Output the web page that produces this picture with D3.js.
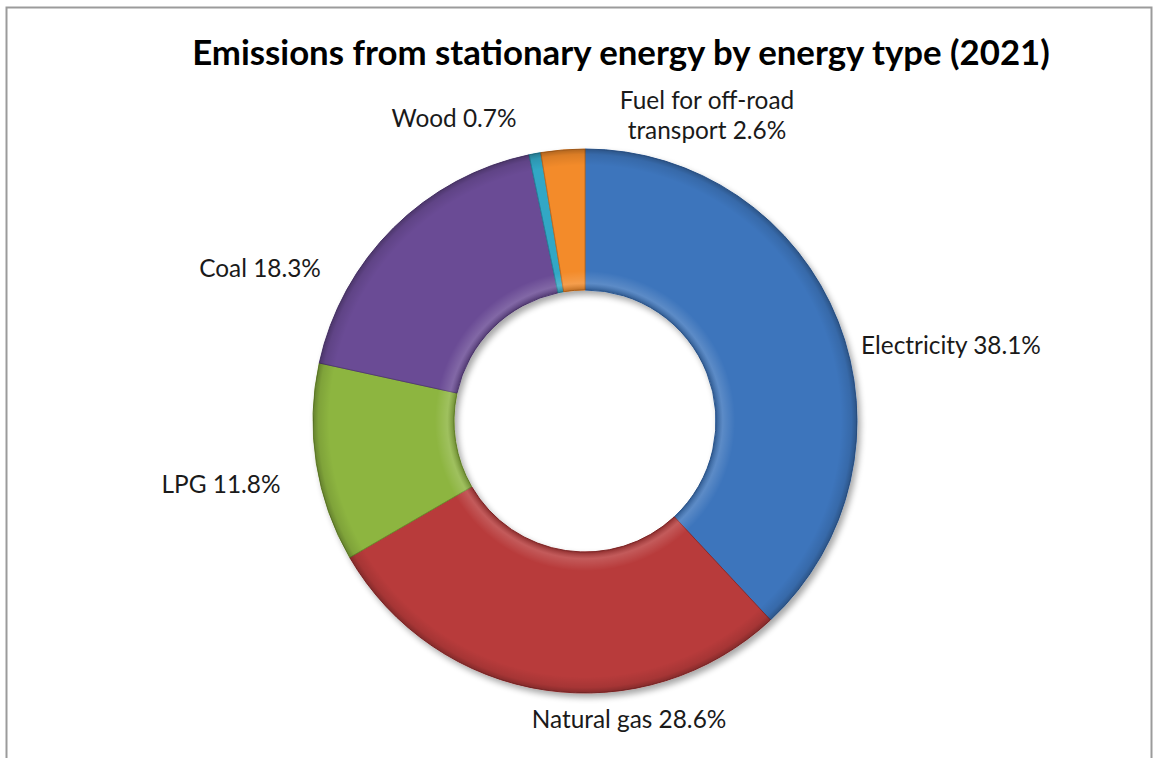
<!DOCTYPE html>
<html>
<head>
<meta charset="utf-8">
<script src="https://cdn.jsdelivr.net/npm/d3@7"></script>
<style>
  html, body { margin: 0; padding: 0; background: #fff; }
  svg { display: block; }
</style>
</head>
<body>
<div id="chart"></div>
<script>
(function() {
    "use strict";

    //==========================================================================================
    // Data
    //==========================================================================================
    var categories = ["Electricity", "Natural gas", "LPG", "Coal", "Wood", "Fuel for off-road transport"];
    var shares = [38.1, 28.6, 11.8, 18.3, 0.7, 2.6];
    var labelLines = [
        ["Electricity 38.1%"],
        ["Natural gas 28.6%"],
        ["LPG 11.8%"],
        ["Coal 18.3%"],
        ["Wood 0.7%"],
        ["Fuel for off-road", "transport 2.6%"]
    ];
    var colors = ["#3d74bc", "#b83a3b", "#8db53f", "#6b4c95", "#33a7c5", "#f38b2b"];
    var strokes = ["#2f5d99", "#8e2c2c", "#6f8f2e", "#523a75", "#25839c", "#c46d1f"];

    //------------------------------------------------------------------------------------------
    // Layout
    //------------------------------------------------------------------------------------------
    var width = 1153, height = 758;
    var cx = 585, cy = 421;
    var outerR = 272, innerR = 131;
    var font = "Lato, 'Open Sans', sans-serif";
    // label centre offsets from the chart centre
    var labelOffsets = [[366, -74], [44, 300], [-364, 65], [-325, -151], [-131, -301], [122, -304]];

    var svg = d3.select("#chart").append("svg")
        .attr("width", width)
        .attr("height", height);

    var defs = svg.append("defs");

    var shadow = defs.append("filter").attr("id", "shadow")
        .attr("x", "-20%").attr("y", "-20%").attr("width", "140%").attr("height", "140%");
    shadow.append("feGaussianBlur").attr("in", "SourceAlpha").attr("stdDeviation", 3);
    shadow.append("feOffset").attr("dx", 3).attr("dy", 4).attr("result", "off");
    shadow.append("feComponentTransfer").append("feFuncA").attr("type", "linear").attr("slope", 0.35);
    var merge = shadow.append("feMerge");
    merge.append("feMergeNode");
    merge.append("feMergeNode").attr("in", "SourceGraphic");

    // bevel-ish shading across the ring (centre is the path origin)
    var ratio = innerR / outerR;
    var bevel = defs.append("radialGradient").attr("id", "bevel")
        .attr("gradientUnits", "userSpaceOnUse")
        .attr("cx", 0).attr("cy", 0).attr("r", outerR);
    [
        [ratio, "#000", 0.22],
        [ratio + 0.025, "#fff", 0.16],
        [ratio + 0.07, "#fff", 0.0],
        [0.94, "#000", 0.0],
        [0.98, "#000", 0.10],
        [1, "#000", 0.28]
    ].forEach(function(s) {
        bevel.append("stop").attr("offset", s[0]).attr("stop-color", s[1]).attr("stop-opacity", s[2]);
    });

    // chart frame
    svg.append("rect")
        .attr("x", 6.5).attr("y", 7.5)
        .attr("width", 1145).attr("height", 800)
        .attr("fill", "none")
        .attr("stroke", "#9b9b9b")
        .attr("stroke-width", 2);

    //------------------------------------------------------------------------------------------
    // Title
    //------------------------------------------------------------------------------------------
    var title = svg.append("text")
        .attr("x", 621).attr("y", 65)
        .attr("text-anchor", "middle")
        .attr("font-family", font)
        .attr("font-weight", "bold")
        .attr("font-size", 28)
        .attr("fill", "#000")
        .text("Emissions from stationary energy by energy type (2021)");
    var tw = title.node().getComputedTextLength();
    title.attr("font-size", 28 * 858 / tw);

    //------------------------------------------------------------------------------------------
    // Donut
    //------------------------------------------------------------------------------------------
    var pie = d3.pie().sort(null).value(function(d) { return d; });
    var arcs = pie(shares);
    var arc = d3.arc().innerRadius(innerR).outerRadius(outerR);

    var g = svg.append("g").attr("transform", "translate(" + cx + "," + cy + ")");
    var ring = g.append("g").attr("filter", "url(#shadow)");

    ring.selectAll("path.slice")
        .data(arcs)
        .enter()
        .append("path")
        .attr("class", "slice")
        .attr("d", arc)
        .attr("fill", function(d, i) { return colors[i]; })
        .attr("stroke", function(d, i) { return strokes[i]; })
        .attr("stroke-width", 1);

    g.selectAll("path.shade")
        .data(arcs)
        .enter()
        .append("path")
        .attr("class", "shade")
        .attr("d", arc)
        .attr("fill", "url(#bevel)")
        .attr("pointer-events", "none");

    //------------------------------------------------------------------------------------------
    // Labels
    //------------------------------------------------------------------------------------------
    var labelSize = 20;
    var labels = g.selectAll("text.label")
        .data(arcs)
        .enter()
        .append("text")
        .attr("class", "label")
        .attr("text-anchor", "middle")
        .attr("font-family", font)
        .attr("font-size", labelSize)
        .attr("fill", "#1a1a1a");

    labels.each(function(d, i) {
        var lines = labelLines[i];
        var el = d3.select(this);
        var lh = 30;
        var y0 = labelOffsets[i][1] + 7 - (lines.length - 1) * lh / 2;
        lines.forEach(function(t, k) {
            el.append("tspan")
                .attr("x", labelOffsets[i][0])
                .attr("y", y0 + k * lh)
                .text(t);
        });
    });

    // fit font size to the reference label width
    var probe = labels.filter(function(d, i) { return i === 0; }).node().getComputedTextLength();
    labels.attr("font-size", labelSize * 180 / probe);
})();
</script>
</body>
</html>
